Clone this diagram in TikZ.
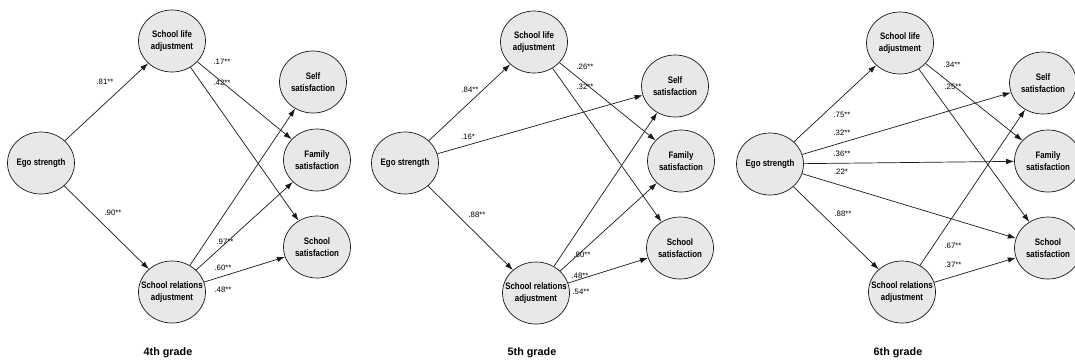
\documentclass[tikz,border=0pt]{standalone}
\usepackage{fontspec}
\setmainfont{Liberation Sans}
\newfontfamily\narrowsans{Liberation Sans}[FakeStretch=0.84]
\usetikzlibrary{shapes.geometric,arrows.meta}
\definecolor{nodefill}{RGB}{232,232,232}
\definecolor{edgecol}{RGB}{25,25,25}
\tikzset{
  var/.style={ellipse, draw=edgecol, line width=0.7pt, fill=nodefill,
    minimum width=67pt, minimum height=62pt, inner sep=0pt},
  vtxt/.style={align=center, inner sep=0pt,
    font=\narrowsans\bfseries\fontsize{9.4}{12}\selectfont},
  pth/.style={-{Latex[length=8pt,width=5.5pt]}, line width=0.7pt, draw=edgecol},
  coef/.style={font=\fontsize{7.8}{9}\selectfont, inner sep=0pt},
  grade/.style={font=\bfseries\fontsize{10.8}{12}\selectfont, inner sep=0pt}
}
\begin{document}
\begin{tikzpicture}[x=1pt,y=-1pt]
\useasboundingbox (0,0) rectangle (1075,360);

% ---------- Panel 1: 4th grade ----------
\node[var, label={[vtxt]center:Ego strength}] (aego)  at (41,163) {};
\node[var, label={[vtxt]center:School life\\adjustment}] (asl) at (172,41) {};
\node[var, label={[vtxt]center:School relations\\adjustment}] (asr) at (172,292) {};
\node[var, label={[vtxt]center:Self\\satisfaction}] (aself) at (313,82) {};
\node[var, label={[vtxt]center:Family\\satisfaction}] (afam) at (317,160) {};
\node[var, label={[vtxt]center:School\\satisfaction}] (asch) at (317,247) {};
\node[grade] (atitle) at (168,353) {4th grade};

\draw[pth] (aego) -- (asl);
\draw[pth] (aego) -- (asr);
\draw[pth] (asl) -- (afam);
\draw[pth] (asl) -- (asch);
\draw[pth] (asr) -- (aself);
\draw[pth] (asr) -- (afam);
\draw[pth] (asr) -- (asch);

\node[coef] (a1) at (105,82)  {.81**};
\node[coef] (a2) at (222,62)  {.17**};
\node[coef] (a3) at (222,83)  {.42**};
\node[coef] (a4) at (113,213) {.90**};
\node[coef] (a5) at (225,242) {.97**};
\node[coef] (a6) at (223,268) {.60**};
\node[coef] (a7) at (223,290) {.48**};

% ---------- Panel 2: 5th grade ----------
\node[var, label={[vtxt]center:Ego strength}] (bego) at (405,163) {};
\node[var, label={[vtxt]center:School life\\adjustment}] (bsl) at (534,42) {};
\node[var, label={[vtxt]center:School relations\\adjustment}] (bsr) at (536,293) {};
\node[var, label={[vtxt]center:Self\\satisfaction}] (bself) at (675,86) {};
\node[var, label={[vtxt]center:Family\\satisfaction}] (bfam) at (681,161) {};
\node[var, label={[vtxt]center:School\\satisfaction}] (bsch) at (680,248) {};
\node[grade] (btitle) at (532,353) {5th grade};

\draw[pth] (bego) -- (bsl);
\draw[pth] (bego) -- (bself);
\draw[pth] (bego) -- (bsr);
\draw[pth] (bsl) -- (bfam);
\draw[pth] (bsl) -- (bsch);
\draw[pth] (bsr) -- (bself);
\draw[pth] (bsr) -- (bfam);
\draw[pth] (bsr) -- (bsch);

\node[coef] (b1) at (470,90)  {.84**};
\node[coef] (b2) at (468,137) {.16*};
\node[coef] (b3) at (585,67)  {.26**};
\node[coef] (b4) at (585,87)  {.32**};
\node[coef] (b5) at (477,215) {.88**};
\node[coef] (b6) at (582,255) {.80**};
\node[coef] (b7) at (580,276) {.48**};
\node[coef] (b8) at (581,292) {.54**};

% ---------- Panel 3: 6th grade ----------
\node[var, label={[vtxt]center:Ego strength}] (cego) at (770,164) {};
\node[var, label={[vtxt]center:School life\\adjustment}] (csl) at (900,43) {};
\node[var, label={[vtxt]center:School relations\\adjustment}] (csr) at (902,292) {};
\node[var, label={[vtxt]center:Self\\satisfaction}] (cself) at (1043,83) {};
\node[var, label={[vtxt]center:Family\\satisfaction}] (cfam) at (1048,161) {};
\node[var, label={[vtxt]center:School\\satisfaction}] (csch) at (1048,248) {};
\node[grade] (ctitle) at (898,353) {6th grade};

\draw[pth] (cego) -- (csl);
\draw[pth] (cego) -- (cself);
\draw[pth] (cego) -- (cfam);
\draw[pth] (cego) -- (csch);
\draw[pth] (cego) -- (csr);
\draw[pth] (csl) -- (cfam);
\draw[pth] (csl) -- (csch);
\draw[pth] (csr) -- (cself);
\draw[pth] (csr) -- (csch);

\node[coef] (c1) at (842,115) {.75**};
\node[coef] (c2) at (842,133) {.32**};
\node[coef] (c3) at (842,154) {.36**};
\node[coef] (c4) at (841,172) {.22*};
\node[coef] (c5) at (843,214) {.88**};
\node[coef] (c6) at (952,65)  {.34**};
\node[coef] (c7) at (953,87)  {.25**};
\node[coef] (c8) at (953,246) {.67**};
\node[coef] (c9) at (953,265) {.37**};
\end{tikzpicture}
\end{document}
